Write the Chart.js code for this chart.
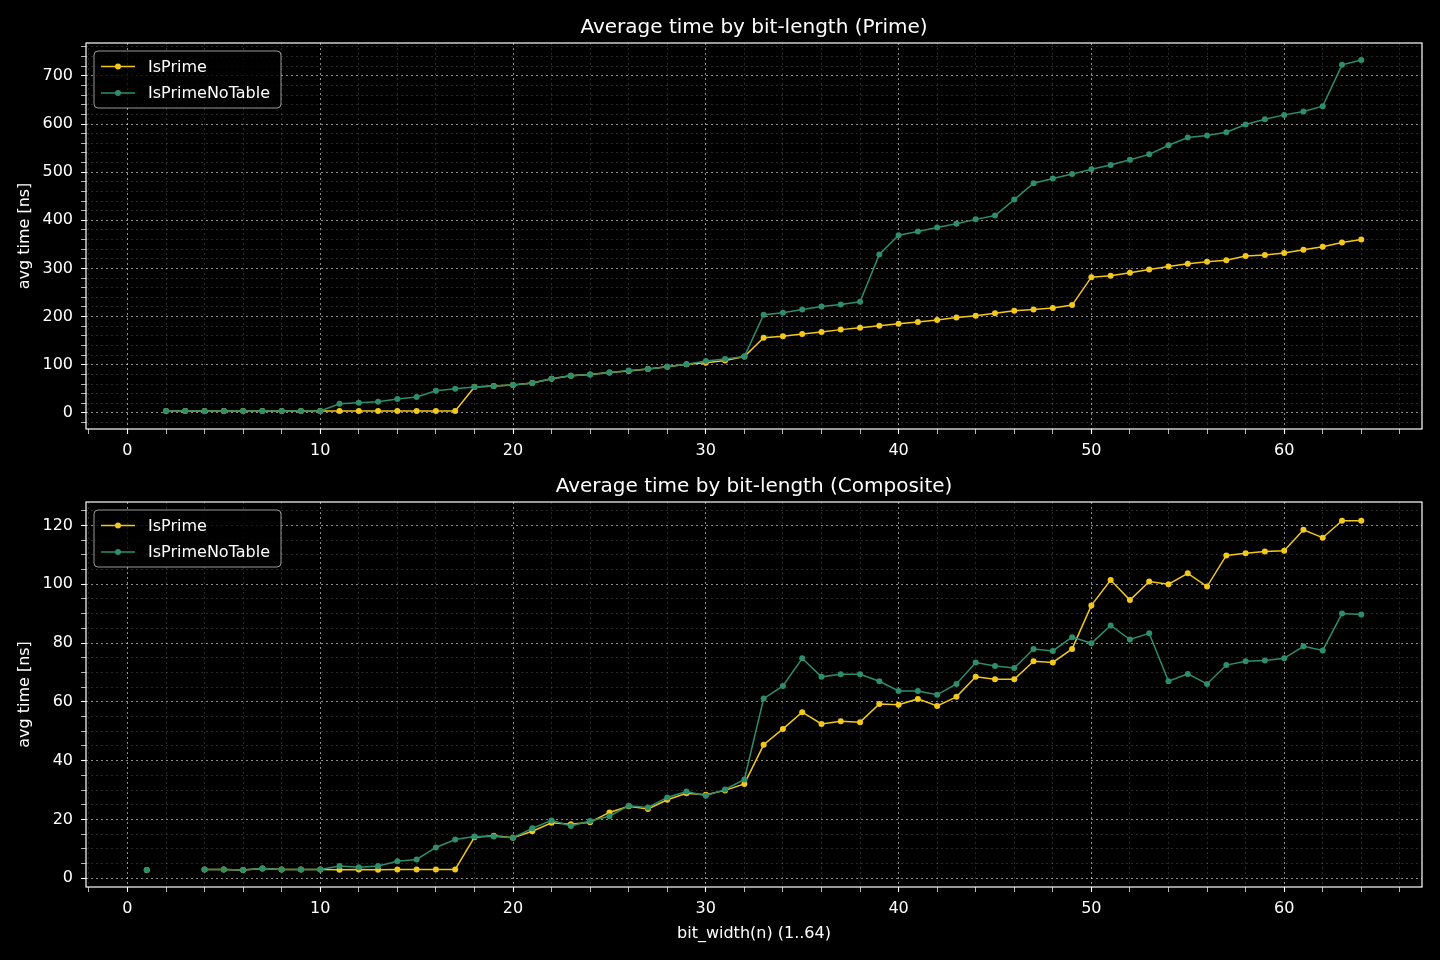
<!DOCTYPE html>
<html>
<head>
<meta charset="utf-8">
<title>Average time by bit-length</title>
<script src="https://cdn.jsdelivr.net/npm/chart.js@4.4.1/dist/chart.umd.min.js"></script>
<style>
    html, body { margin: 0; padding: 0; background: #000; }
    .panel { position: relative; width: 1440px; }
    #topPanel { height: 470px; }
    #bottomPanel { height: 490px; }
</style>
</head>
<body>
<div class="panel" id="topPanel"><canvas id="primeChart"></canvas></div>
<div class="panel" id="bottomPanel"><canvas id="compositeChart"></canvas></div>
<script>
// ============================================================
// DATA
// ============================================================
const primeBits = [2, 3, 4, 5, 6, 7, 8, 9, 10, 11, 12, 13, 14, 15, 16, 17, 18, 19, 20, 21,
    22, 23, 24, 25, 26, 27, 28, 29, 30, 31, 32, 33, 34, 35, 36, 37, 38, 39, 40, 41, 42, 43,
    44, 45, 46, 47, 48, 49, 50, 51, 52, 53, 54, 55, 56, 57, 58, 59, 60, 61, 62, 63, 64];

const primeIsPrime = [4, 4, 4, 4, 4, 4, 4, 4, 4, 4, 4, 4, 4, 4, 4, 4, 54, 56, 58, 62,
    71, 77, 80, 84, 87, 91, 96, 101, 104, 109, 117, 156, 159, 164, 168, 173, 177, 181, 185, 189, 193, 198,
    202, 207, 212, 215, 218, 224, 282, 285, 291, 298, 304, 310, 314, 317, 326, 328, 332, 339, 345, 354, 360];

const primeNoTable = [4, 4, 4, 4, 4, 4, 4, 4, 4, 19, 21, 23, 29, 33, 46, 50, 54, 56, 58, 62,
    71, 77, 80, 84, 88, 91, 96, 101, 108, 112, 117, 204, 208, 215, 221, 225, 231, 329, 369, 377, 385, 393,
    402, 410, 443, 477, 487, 496, 506, 515, 526, 537, 556, 572, 576, 583, 599, 610, 619, 626, 637, 723, 733];

const compositeBits = [1, 2, 3, 4, 5, 6, 7, 8, 9, 10, 11, 12, 13, 14, 15, 16, 17, 18, 19, 20, 21,
    22, 23, 24, 25, 26, 27, 28, 29, 30, 31, 32, 33, 34, 35, 36, 37, 38, 39, 40, 41, 42, 43,
    44, 45, 46, 47, 48, 49, 50, 51, 52, 53, 54, 55, 56, 57, 58, 59, 60, 61, 62, 63, 64];

const compositeIsPrime = [2.8, null, null, 3.0, 3.0, 2.8, 3.3, 3.0, 3.0, 3.0, 2.9, 3.0, 2.9, 3.0, 3.0, 3.0, 3.0, 14.0, 14.5, 13.8, 16.0,
    18.9, 18.4, 19.1, 22.4, 24.5, 23.6, 26.7, 28.9, 28.4, 29.9, 32.1, 45.4, 50.8, 56.5, 52.5, 53.4, 53.1, 59.3, 59.0, 61.0, 58.6, 61.7,
    68.5, 67.7, 67.7, 73.8, 73.4, 78.0, 92.8, 101.4, 94.6, 100.9, 100.0, 103.7, 99.2, 109.8, 110.5, 111.1, 111.4, 118.5, 115.8, 121.6, 121.6];

const compositeNoTable = [2.8, null, null, 3.0, 3.0, 2.8, 3.3, 3.0, 3.0, 3.0, 4.2, 3.8, 4.2, 5.8, 6.4, 10.5, 13.2, 14.2, 14.2, 13.8, 17.0,
    19.7, 17.8, 19.5, 21.1, 24.7, 24.1, 27.5, 29.5, 28.1, 30.2, 33.6, 61.1, 65.4, 74.8, 68.5, 69.4, 69.4, 67.0, 63.7, 63.7, 62.4, 66.1,
    73.4, 72.2, 71.5, 78.0, 77.3, 82.0, 79.9, 86.0, 81.2, 83.3, 67.0, 69.5, 66.1, 72.5, 73.8, 74.1, 74.8, 78.9, 77.5, 90.0, 89.7];

const seriesNames = ['IsPrime', 'IsPrimeNoTable'];

// axis ranges and tick steps (major labelled, minor unlabelled)
const xRange = [-2.15, 67.15];
const xSteps = [10, 2];
const primeYRange = [-33.4, 768.3];
const primeYSteps = [100, 20];
const compositeYRange = [-2.95, 127.95];
const compositeYSteps = [20, 5];

// ============================================================
// STYLE
// ============================================================
const COLOR_PRIME = '#f2c81a';
const COLOR_NOTABLE = '#2e8e6b';
const MAJOR_GRID = 'rgba(255,255,255,0.55)';
const MINOR_GRID = 'rgba(255,255,255,0.2)';

Chart.defaults.font.family = '"DejaVu Sans", sans-serif';
Chart.defaults.color = '#ffffff';

function toPoints(xs, ys) {
    return xs.map((x, i) => ({ x: x, y: ys[i] }));
}

function isMajor(value, step) {
    return Math.abs(value / step - Math.round(value / step)) < 1e-6;
}

// matplotlib-like box around the axes
const axisBox = {
    id: 'axisBox',
    afterDatasetsDraw(chart) {
        const { ctx, chartArea: a } = chart;
        ctx.save();
        ctx.strokeStyle = '#ffffff';
        ctx.lineWidth = 1.2;
        ctx.strokeRect(a.left, a.top, a.right - a.left, a.bottom - a.top);
        ctx.restore();
    }
};

// framed legend inside the upper-left corner
const boxLegend = {
    id: 'boxLegend',
    afterDraw(chart) {
        const { ctx, chartArea: a } = chart;
        const x = a.left + 8, y = a.top + 8, w = 187, h = 57;
        ctx.save();
        ctx.beginPath();
        ctx.roundRect(x, y, w, h, 4);
        ctx.fillStyle = 'rgba(0,0,0,0.8)';
        ctx.fill();
        ctx.strokeStyle = 'rgba(204,204,204,0.75)';
        ctx.lineWidth = 1;
        ctx.stroke();
        chart.data.datasets.forEach((ds, i) => {
            const rowY = y + 15.5 + i * 26.5;
            ctx.strokeStyle = ds.borderColor;
            ctx.lineWidth = 1.5;
            ctx.beginPath();
            ctx.moveTo(x + 7, rowY);
            ctx.lineTo(x + 41, rowY);
            ctx.stroke();
            ctx.fillStyle = ds.borderColor;
            ctx.beginPath();
            ctx.arc(x + 24, rowY, 3, 0, Math.PI * 2);
            ctx.fill();
            ctx.fillStyle = '#ffffff';
            ctx.font = '16px "DejaVu Sans"';
            ctx.textBaseline = 'middle';
            ctx.textAlign = 'left';
            ctx.fillText(ds.label, x + 54, rowY + 1);
        });
        ctx.restore();
    }
};

function axisOptions(range, steps, size, horizontal, titleText) {
    const [major, minor] = steps;
    return {
        type: 'linear',
        min: range[0],
        max: range[1],
        afterFit: s => { if (horizontal) s.height = size; else s.width = size; },
        border: { display: false, dash: [2, 3] },
        grid: {
            color: c => isMajor(c.tick.value, major) ? MAJOR_GRID : MINOR_GRID,
            lineWidth: c => isMajor(c.tick.value, major) ? 1 : 0.8,
            tickLength: 5,
            tickColor: '#ffffff',
            tickWidth: c => isMajor(c.tick.value, major) ? 1.1 : 0.7
        },
        ticks: {
            stepSize: minor,
            includeBounds: false,
            autoSkip: false,
            maxRotation: 0,
            minRotation: 0,
            padding: horizontal ? 7 : 8,
            color: '#ffffff',
            font: { size: 16 },
            callback: v => isMajor(v, major) ? String(Math.round(v)) : ''
        },
        title: {
            display: !!titleText,
            text: titleText || '',
            color: '#ffffff',
            font: { size: 16 },
            padding: horizontal ? { top: 0, bottom: 16.4 } : { top: 15.4, bottom: 0 }
        }
    };
}

function makeDatasets(xs, a, b) {
    return [{
        label: seriesNames[0],
        data: toPoints(xs, a),
        borderColor: COLOR_PRIME,
        backgroundColor: COLOR_PRIME,
        pointBackgroundColor: COLOR_PRIME,
        borderWidth: 1.5,
        pointRadius: 3,
        pointBorderWidth: 0,
        spanGaps: false,
        order: 1
    }, {
        label: seriesNames[1],
        data: toPoints(xs, b),
        borderColor: COLOR_NOTABLE,
        backgroundColor: COLOR_NOTABLE,
        pointBackgroundColor: COLOR_NOTABLE,
        borderWidth: 1.5,
        pointRadius: 3,
        pointBorderWidth: 0,
        spanGaps: false,
        order: 0
    }];
}

function makeChart(id, title, titlePad, datasets, yRange, ySteps, xHeight, xTitle) {
    return new Chart(document.getElementById(id), {
        type: 'line',
        data: { datasets: datasets },
        options: {
            responsive: true,
            maintainAspectRatio: false,
            animation: false,
            events: [],
            layout: { padding: { left: 0, right: 18, top: 0, bottom: 0 } },
            plugins: {
                legend: { display: false },
                tooltip: { enabled: false },
                title: {
                    display: true,
                    fullSize: false,
                    text: title,
                    color: '#ffffff',
                    font: { size: 20, weight: 'normal' },
                    padding: titlePad
                }
            },
            scales: {
                x: axisOptions(xRange, xSteps, xHeight, true, xTitle),
                y: axisOptions(yRange, ySteps, 86, false, 'avg time [ns]')
            }
        },
        plugins: [axisBox, boxLegend]
    });
}

makeChart('primeChart', 'Average time by bit-length (Prime)', { top: 16, bottom: 3 },
    makeDatasets(primeBits, primeIsPrime, primeNoTable), primeYRange, primeYSteps, 41, null);

makeChart('compositeChart', 'Average time by bit-length (Composite)', { top: 5, bottom: 3 },
    makeDatasets(compositeBits, compositeIsPrime, compositeNoTable), compositeYRange, compositeYSteps, 73,
    'bit_width(n) (1..64)');
</script>
</body>
</html>
